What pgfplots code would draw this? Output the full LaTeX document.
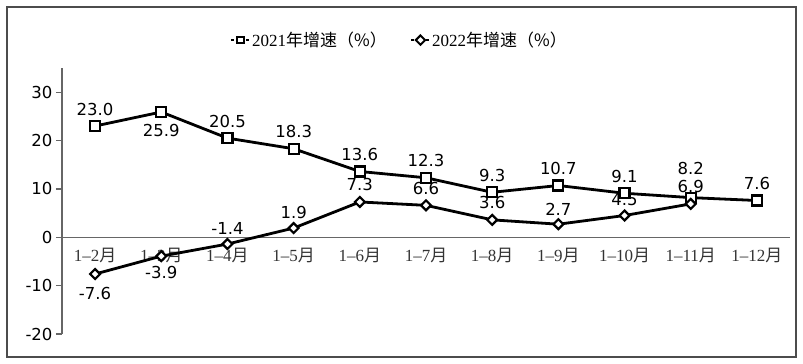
\documentclass[border=0pt]{standalone}
\usepackage{fontspec}
\setmainfont{DejaVu Sans}
\newfontfamily\cjk{Noto Sans CJK SC}
\newfontfamily\ser{Liberation Serif}
\usepackage{pgfplots}
\pgfplotsset{compat=1.18}
\usepackage{pgfplotstable}

\pgfplotstableread{
x y dy
0 23.0 17
1 25.9 -18
2 20.5 17
3 18.3 17
4 13.6 17
5 12.3 17
6 9.3 17
7 10.7 17
8 9.1 17
9 8.2 29
10 7.6 17
}\dataA
\pgfplotstableread{
x y dy
0 -7.6 -19
1 -3.9 -16
2 -1.4 16
3 1.9 16
4 7.3 17
5 6.6 17
6 3.6 17
7 2.7 15
8 4.5 16
9 6.9 17
}\dataB

\newcommand{\xl}[1]{{\ser 1–#1}{\cjk 月}}

\begin{document}
\begin{tikzpicture}
\begin{axis}[
  scale only axis, width=728pt, height=266pt,
  xmin=-0.5, xmax=10.5, ymin=-20, ymax=35,
  axis x line=middle, axis y line=left,
  axis line style={-, draw=black!60, line width=1.3pt},
  xtick={0,...,10},
  xticklabels={\xl{2},\xl{3},\xl{4},\xl{5},\xl{6},\xl{7},\xl{8},\xl{9},\xl{10},\xl{11},\xl{12}},
  x tick label style={font=\fontsize{17}{18}\selectfont, anchor=north, yshift=-1pt, text=black!80},
  major x tick style={draw=none},
  ytick={-20,-10,0,10,20,30},
  y tick label style={font=\fontsize{16.5}{18}\selectfont},
  tick align=outside, major tick length=6pt,
  y tick style={draw=black!60, line width=1.2pt},
  /pgf/number format/assume math mode=true,
  clip=false,
  legend style={draw=none, fill=none, at={(rel axis cs:0.464,1.105)}, anchor=center,
    legend columns=2, font=\fontsize{17}{18}\selectfont,
    /tikz/every even column/.append style={column sep=22pt}},
  legend image code/.code={\draw[#1, line width=1.3pt, dash pattern=on 2.5pt off 2.5pt, mark size=3.3pt, mark indices={2}, every mark/.append style={solid, line width=2pt}] plot coordinates {(0pt,0pt)(9pt,0pt)(18pt,0pt)};},
]
\draw[black!70, line width=1.5pt] (rel axis cs:-0.0755,-0.0865) rectangle (rel axis cs:1.0082,1.229);
\path (rel axis cs:-0.08516,-0.11278) rectangle (rel axis cs:1.01786,1.25564);

\addplot[black, line width=2.8pt, mark=square*, mark size=5pt,
  mark options={fill=white, draw=black, line width=2.2pt, solid},
  nodes near coords={\pgfmathprintnumber[fixed,fixed zerofill,precision=1]{\pgfplotspointmeta}},
  visualization depends on={\thisrow{dy} \as \dy},
  every node near coord/.append style={anchor=center, inner sep=0pt, yshift=\dy pt, font=\fontsize{16.5}{18}\selectfont, text=black}]
  table[x=x,y=y] {\dataA};
\addlegendentry{{\ser 2021}{\cjk 年增速（\%）}}

\addplot[black, line width=2.8pt, mark=square*, mark size=3.5pt,
  mark options={fill=white, draw=black, line width=2.2pt, rotate=45, solid},
  nodes near coords={\pgfmathprintnumber[fixed,fixed zerofill,precision=1]{\pgfplotspointmeta}},
  visualization depends on={\thisrow{dy} \as \dy},
  every node near coord/.append style={anchor=center, inner sep=0pt, yshift=\dy pt, font=\fontsize{16.5}{18}\selectfont, text=black}]
  table[x=x,y=y] {\dataB};
\addlegendentry{{\ser 2022}{\cjk 年增速（\%）}}
\end{axis}
\end{tikzpicture}
\end{document}
